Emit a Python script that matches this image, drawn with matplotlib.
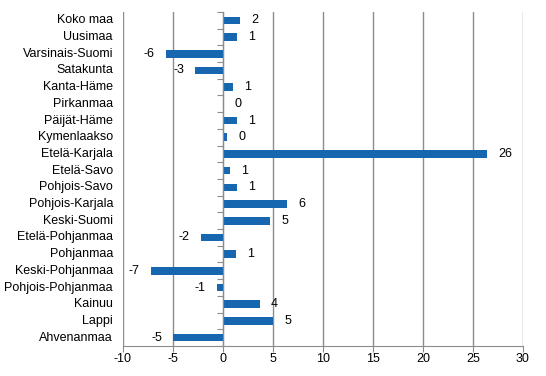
import matplotlib.pyplot as plt
import matplotlib.transforms as mtransforms
import numpy as np

regions = ["Koko maa", "Uusimaa", "Varsinais-Suomi", "Satakunta", "Kanta-Häme",
           "Pirkanmaa", "Päijät-Häme", "Kymenlaakso", "Etelä-Karjala", "Etelä-Savo",
           "Pohjois-Savo", "Pohjois-Karjala", "Keski-Suomi", "Etelä-Pohjanmaa",
           "Pohjanmaa", "Keski-Pohjanmaa", "Pohjois-Pohjanmaa", "Kainuu", "Lappi",
           "Ahvenanmaa"]
values = [1.7, 1.4, -5.7, -2.8, 1.0, 0.0, 1.4, 0.4, 26.4, 0.7,
          1.4, 6.4, 4.7, -2.2, 1.3, -7.2, -0.6, 3.7, 5.0, -5.0]
xticks = [-10, -5, 0, 5, 10, 15, 20, 25, 30]

plt.rcParams['font.family'] = ['Liberation Sans', 'DejaVu Sans']

fig = plt.figure(figsize=(5.46, 3.76), dpi=100)
ax = fig.add_axes([123 / 546, 1 - 346 / 376, 400 / 546, 334 / 376])

y = np.arange(len(regions))
ax.barh(y, values, height=0.45, color='#1767b0', zorder=3)

ax.set_xlim(-10, 30)
ax.set_ylim(len(regions) - 0.5, -0.5)
ax.set_xticks(xticks)
ax.set_xticklabels([str(t) for t in xticks], fontsize=9)
ax.grid(axis='x', color='#8c8c8c', linewidth=1, zorder=0)

for s in ['top', 'right']:
    ax.spines[s].set_visible(False)
ax.spines['bottom'].set_color('#8c8c8c')
ax.spines['left'].set_position(('data', 0))
ax.spines['left'].set_color('#8c8c8c')
ax.spines['left'].set_zorder(4)

# tick marks on the zero axis between categories
ax.set_yticks(np.arange(-0.5, len(regions), 1))
ax.set_yticklabels([])
ax.tick_params(axis='y', length=4, color='#8c8c8c')
ax.tick_params(axis='x', length=4, color='#8c8c8c', pad=1)

# category labels to the left of the plot area
trans = mtransforms.blended_transform_factory(ax.transAxes, ax.transData)
for yi, name in zip(y, regions):
    ax.text(-0.025, yi, name, transform=trans, ha='right', va='center', fontsize=9)

# value labels
for yi, v in zip(y, values):
    lab = "{:.0f}".format(v)
    if v >= 0:
        ax.annotate(lab, (v, yi), xytext=(8, 0), textcoords='offset points',
                    ha='left', va='center', fontsize=9)
    else:
        ax.annotate(lab, (v, yi), xytext=(-8, 0), textcoords='offset points',
                    ha='right', va='center', fontsize=9)

fig.savefig('out.png', dpi=100)
